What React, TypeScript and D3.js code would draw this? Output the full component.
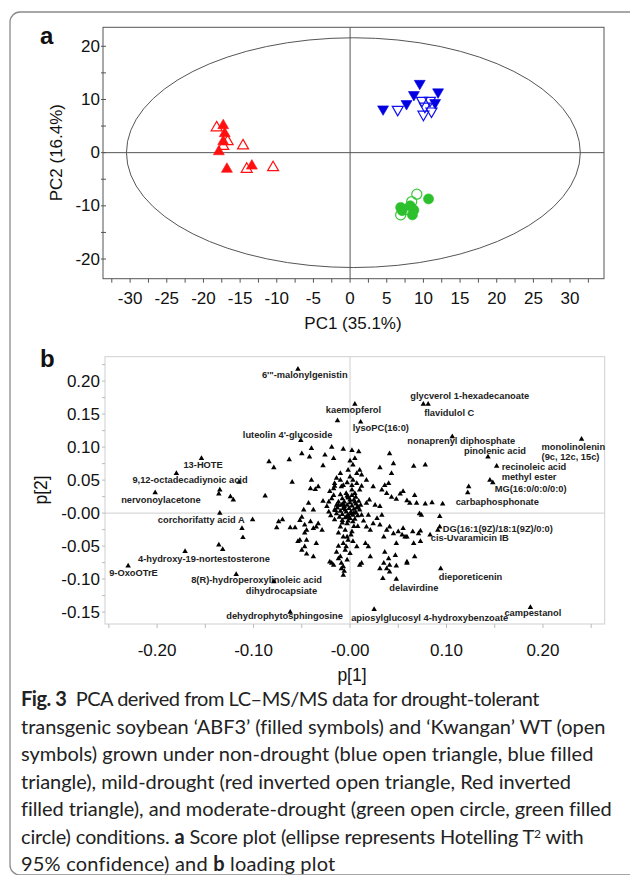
import { useLayoutEffect, useRef, useState } from "react";
import * as d3 from "d3";

// ---------- panel a: score plot ----------
const scoreXTicks = [-30, -25, -20, -15, -10, -5, 0, 5, 10, 15, 20, 25, 30];
const scoreYTicks = [20, 10, 0, -10, -20];

// filled = ABF3, open = Kwangan WT
const abf3NonDrought = [[4.5, 8.2], [7.7, 9.2], [8.7, 10.9], [9.5, 13.0], [12.0, 11.4], [11.6, 9.4]];
const wtNonDrought = [[6.5, 8.1], [9.8, 9.8], [10.9, 9.8], [10.0, 7.2], [11.1, 7.8], [10.2, 8.7]];
const abf3MildDrought = [[-17.3, 5.1], [-17.1, 3.6], [-17.3, 2.1], [-17.9, 0.2], [-16.8, -3.1], [-13.4, -2.5]];
const wtMildDrought = [[-18.2, 4.7], [-16.7, 2.1], [-17.3, 1.2], [-14.6, 1.3], [-14.1, -3.1], [-10.5, -2.8]];
const abf3ModDrought = [[6.9, -10.3], [7.1, -10.9], [8.2, -10.0], [8.7, -10.8], [8.5, -11.7], [10.7, -8.7]];
const wtModDrought = [[9.1, -7.8], [8.4, -9.2], [6.9, -11.7], [7.6, -10.7]];

// Hotelling T2 (95%) ellipse in PC units
const hotelling = { cx: 0.45, cy: 0, rx: 30.95, ry: 21.6 };

// ---------- panel b: loading plot ----------
const loadXTicks = [-0.2, -0.1, 0, 0.1, 0.2];
const loadXLabels = ["-0.20", "-0.10", "-0.00", "0.10", "0.20"];
const loadYTicks = [0.2, 0.15, 0.1, 0.05, 0, -0.05, -0.1, -0.15];
const loadYLabels = ["0.20", "0.15", "0.10", "0.05", "-0.00", "-0.05", "-0.10", "-0.15"];

const namedLoadings = [
  { name: "6'\"-malonylgenistin", x: -0.054, y: 0.218 },
  { name: "kaemopferol", x: 0.005, y: 0.165 },
  { name: "lysoPC(16:0)", x: 0.011, y: 0.138 },
  { name: "glycverol 1-hexadecanoate", x: 0.076, y: 0.165 },
  { name: "flavidulol C", x: 0.081, y: 0.165 },
  { name: "luteolin 4'-glucoside", x: -0.051, y: 0.11 },
  { name: "nonaprenyl diphosphate", x: 0.106, y: 0.116 },
  { name: "pinolenic acid", x: 0.143, y: 0.085 },
  { name: "monolinolenin|(9c, 12c, 15c)", x: 0.24, y: 0.112 },
  { name: "recinoleic acid|methyl ester", x: 0.152, y: 0.071 },
  { name: "MG(16:0/0:0/0:0)", x: 0.148, y: 0.046 },
  { name: "carbaphosphonate", x: 0.122, y: 0.031 },
  { name: "13-HOTE", x: -0.154, y: 0.083 },
  { name: "9,12-octadecadiynoic acid", x: -0.18, y: 0.06 },
  { name: "nervonoylacetone", x: -0.202, y: 0.031 },
  { name: "corchorifatty acid A", x: -0.135, y: 0.0 },
  { name: "4-hydroxy-19-nortestosterone", x: -0.171, y: -0.058 },
  { name: "9-OxoOTrE", x: -0.23, y: -0.08 },
  { name: "8(R)-hydroperoxylinoleic acid", x: -0.118, y: -0.093 },
  { name: "dihydrocapsiate", x: -0.079, y: -0.104 },
  { name: "dehydrophytosphingosine", x: -0.062, y: -0.15 },
  { name: "apiosylglucosyl 4-hydroxybenzoate", x: 0.025, y: -0.146 },
  { name: "campestanol", x: 0.187, y: -0.143 },
  { name: "dieporeticenin", x: 0.094, y: -0.084 },
  { name: "delavirdine", x: 0.048, y: -0.1 },
  { name: "DG(16:1(9Z)/18:1(9Z)/0:0)", x: 0.093, y: -0.021 },
  { name: "cis-Uvaramicin IB", x: 0.091, y: -0.026 },
];

// where each name sits relative to its triangle (px)
const labelOffsets: Record<string, [number, number]> = {
  "6'\"-malonylgenistin": [-36, 6],
  kaemopferol: [-29, 6],
  "lysoPC(16:0)": [-8, 6],
  "glycverol 1-hexadecanoate": [-13, -8],
  "flavidulol C": [-4, 9],
  "luteolin 4'-glucoside": [-58, -6],
  "nonaprenyl diphosphate": [-45, 4],
  "pinolenic acid": [-24, -6],
  "monolinolenin|(9c, 12c, 15c)": [-40, 8],
  "recinoleic acid|methyl ester": [5, 1],
  "MG(16:0/0:0/0:0)": [2, 6],
  carbaphosphonate: [-12, 9],
  "13-HOTE": [-18, 7],
  "9,12-octadecadiynoic acid": [-44, 6],
  nervonoylacetone: [-34, 7],
  "corchorifatty acid A": [-62, 7],
  "4-hydroxy-19-nortestosterone": [-47, 8],
  "9-OxoOTrE": [-19, 7],
  "8(R)-hydroperoxylinoleic acid": [-45, 5],
  dihydrocapsiate: [-28, 9],
  dehydrophytosphingosine: [-64, 4],
  "apiosylglucosyl 4-hydroxybenzoate": [-23, 9],
  campestanol: [-26, 5],
  dieporeticenin: [-2, 8],
  delavirdine: [-7, 9],
  "DG(16:1(9Z)/18:1(9Z)/0:0)": [3, 2],
  "cis-Uvaramicin IB": [-7, 8],
};

const loadings = [
  // upper
  [-0.013, 0.14], [-0.084, 0.078], [-0.079, 0.069], [-0.063, 0.081], [-0.05, 0.09], [-0.042, 0.085],
  [-0.04, 0.098], [-0.026, 0.088], [-0.019, 0.1], [-0.017, 0.083], [-0.007, 0.097], [0.002, 0.095],
  [0.009, 0.093], [0.0, 0.079], [0.005, 0.083], [0.041, 0.09], [0.031, 0.069], [0.045, 0.075],
  [0.066, 0.071], [0.078, 0.073], [0.003, 0.073], [-0.002, 0.065], [0.007, 0.06], [0.01, 0.065],
  [-0.028, 0.072], [-0.01, 0.06], [-0.014, 0.053], [-0.016, 0.045], [0.012, 0.058], [0.017, 0.05],
  [0.043, 0.06], [-0.06, 0.047], [-0.088, 0.026],
  // middle
  [-0.04, 0.05], [-0.041, 0.037], [-0.036, 0.036], [-0.033, 0.04], [-0.017, 0.037], [-0.007, 0.042],
  [0.002, 0.042], [0.01, 0.035], [-0.01, 0.05], [-0.016, 0.041], [-0.009, 0.04], [-0.021, 0.033],
  [-0.017, 0.027], [0.0, 0.055], [0.003, 0.05], [-0.003, 0.046], [0.007, 0.045], [0.012, 0.041],
  [0.002, 0.035], [0.005, 0.03], [-0.002, 0.025],
  [0.024, 0.04], [0.033, 0.035], [0.036, 0.042], [0.04, 0.045], [0.038, 0.03], [0.043, 0.024],
  [0.048, 0.021], [0.052, 0.029], [0.055, 0.033], [0.059, 0.019], [0.062, 0.015], [0.067, 0.027],
  [0.069, 0.015], [0.078, 0.014], [0.085, 0.016], [0.096, 0.014], [0.026, 0.012], [0.031, 0.01],
  [0.017, 0.015], [0.02, 0.02],
  [-0.135, 0.035], [-0.136, 0.029], [-0.124, 0.025], [-0.121, 0.02], [-0.115, 0.047],
  [-0.048, 0.005], [-0.038, 0.005], [-0.024, 0.01], [-0.014, 0.012], [-0.019, 0.022], [-0.022, 0.017],
  [-0.043, 0.015], [-0.016, 0.005], [-0.022, 0.002], [-0.028, 0.018],
  // lower left
  [-0.101, -0.01], [-0.112, -0.023], [-0.111, -0.037], [-0.136, -0.048], [-0.132, -0.055],
  [-0.074, -0.013], [-0.07, -0.01], [-0.076, -0.022], [-0.062, -0.022], [-0.057, -0.022],
  [-0.05, -0.006], [-0.052, -0.011], [-0.047, -0.018], [-0.041, -0.013], [-0.038, -0.023],
  [-0.033, -0.016], [-0.029, -0.026], [-0.045, -0.026], [-0.047, -0.03], [-0.035, -0.021],
  [-0.054, -0.043], [-0.05, -0.056], [-0.047, -0.051], [-0.045, -0.062], [-0.045, -0.041],
  [-0.035, -0.046], [-0.038, -0.066], [-0.021, -0.074], [-0.017, -0.079], [-0.009, -0.084],
  [-0.007, -0.094], [-0.052, -0.041],
  // central trail
  [-0.002, -0.006], [-0.003, -0.016], [-0.005, -0.026], [-0.003, -0.036], [-0.007, -0.046],
  [-0.005, -0.056], [-0.01, -0.066], [-0.009, -0.076], [-0.006, -0.088], [-0.01, -0.021],
  [0.002, -0.028], [-0.007, -0.036], [-0.002, -0.041], [0.003, -0.043], [-0.004, -0.051],
  [0.0, -0.061], [-0.003, -0.071], [-0.007, -0.081], [-0.012, -0.069], [-0.019, -0.076],
  [-0.014, -0.059], [-0.012, -0.03], [0.004, -0.02], [-0.008, -0.015], [0.001, -0.033],
  [-0.012, -0.05], [-0.016, -0.01], [-0.02, -0.004],
  // lower right
  [0.012, -0.003], [0.019, -0.003], [0.024, -0.016], [0.021, -0.026], [0.031, -0.018],
  [0.038, -0.026], [0.041, -0.021], [0.045, -0.031], [0.035, -0.036], [0.048, -0.046],
  [0.057, -0.036], [0.019, -0.051], [0.021, -0.066], [0.036, -0.059], [0.04, -0.069],
  [0.035, -0.076], [0.041, -0.079], [0.048, -0.08], [0.031, -0.084], [0.012, -0.076],
  [0.041, -0.089], [0.059, -0.076], [0.074, -0.003], [0.093, -0.005], [0.065, -0.028],
  [0.073, -0.027], [0.059, -0.036], [0.054, -0.033], [0.073, -0.043], [0.066, -0.046],
  [0.067, -0.066], [0.059, -0.074], [0.047, -0.064], [0.038, -0.084], [0.01, -0.079],
  [0.017, -0.021], [0.05, -0.028], [0.055, -0.023], [0.016, -0.046], [0.007, -0.051],
  [0.028, -0.008], [0.033, -0.003], [0.072, -0.001], [0.083, -0.033], [0.071, -0.031],
  [0.034, -0.099], [0.145, 0.05], [0.123, 0.04], [0.014, -0.012], [0.008, -0.02],
  // dense core
  [-0.01, 0.028], [-0.004, 0.03], [0.002, 0.027], [0.006, 0.024], [-0.008, 0.022], [-0.002, 0.023],
  [0.004, 0.02], [0.009, 0.018], [-0.012, 0.017], [-0.006, 0.017], [0.0, 0.016], [0.006, 0.014],
  [-0.009, 0.012], [-0.003, 0.012], [0.002, 0.011], [0.008, 0.01], [-0.013, 0.008], [-0.007, 0.007],
  [-0.001, 0.007], [0.004, 0.006], [0.01, 0.005], [-0.01, 0.003], [-0.004, 0.002], [0.001, 0.002],
  [0.006, 0.001], [-0.014, -0.001], [-0.008, -0.002], [-0.002, -0.003], [0.003, -0.003],
  [0.008, -0.004], [-0.011, -0.006], [-0.005, -0.007], [0.0, -0.008], [0.005, -0.009],
  [-0.008, -0.011], [-0.002, -0.012], [0.003, -0.013], [-0.005, 0.005], [0.0, 0.02], [-0.006, 0.01],
  [0.004, 0.0], [-0.003, -0.005], [0.007, 0.008], [-0.012, 0.012], [0.001, -0.001], [-0.007, 0.014],
  [0.005, 0.017], [-0.003, 0.026], [0.011, 0.012], [-0.015, 0.004],
];

// ---------- caption ----------
type Seg = { t: string; b?: boolean; sup?: boolean };
const captionLines: Seg[][] = [
  [{ t: "Fig. 3", b: true }, { t: "  PCA derived from LC\u2013MS/MS data for drought-tolerant" }],
  [{ t: "transgenic soybean \u2018ABF3\u2019 (filled symbols) and \u2018Kwangan\u2019 WT (open" }],
  [{ t: "symbols) grown under non-drought (blue open triangle, blue filled" }],
  [{ t: "triangle), mild-drought (red inverted open triangle, Red inverted" }],
  [{ t: "filled triangle), and moderate-drought (green open circle, green filled" }],
  [{ t: "circle) conditions. " }, { t: "a", b: true }, { t: " Score plot (ellipse represents Hotelling T" }, { t: "2", sup: true }, { t: " with" }],
  [{ t: "95% confidence) and " }, { t: "b", b: true }, { t: " loading plot" }],
];
const captionWidths = [518, 584, 572, 550, 590, 563, 314];

const sans = "'Liberation Sans', Arial, sans-serif";
const ink = "#111";

const ScorePlot = () => {
  const x = d3.scaleLinear().domain([-33.7, 34.63]).range([103, 604]);
  const y = d3.scaleLinear().domain([-23.7, 23.57]).range([278.7, 27.3]);
  const tri = d3.symbol().type(d3.symbolTriangle).size(52)() as string;
  const dot = d3.symbol().type(d3.symbolCircle).size(80)() as string;
  const minorX = d3.range(-32.5, 33, 2.5);
  const minorY = d3.range(-20, 21, 5);
  const [x0, x1] = x.range();
  const [y0, y1] = y.range();

  const marks = (pts: number[][], path: string, color: string, filled: boolean, flip = false) =>
    pts.map((d, i) => (
      <path
        key={i}
        d={path}
        transform={`translate(${x(d[0])},${y(d[1])})${flip ? " rotate(180)" : ""}`}
        fill={filled ? color : "none"}
        stroke={color}
        strokeWidth={filled ? 0.6 : 1.2}
      />
    ));

  return (
    <g fontFamily={sans} fill={ink}>
      <text x={40} y={44} fontSize={24} fontWeight="bold">a</text>
      <rect x={x0} y={y1} width={x1 - x0} height={y0 - y1} fill="none" stroke="#555" />
      <line x1={x(0)} x2={x(0)} y1={y1} y2={y0} stroke="#555" />
      <line x1={x0} x2={x1} y1={y(0)} y2={y(0)} stroke="#555" />
      <ellipse
        cx={x(hotelling.cx)}
        cy={y(hotelling.cy)}
        rx={x(hotelling.rx) - x(0)}
        ry={y(0) - y(hotelling.ry)}
        fill="none"
        stroke="#555"
      />
      {minorX.map((t) => (
        <line key={t} x1={x(t)} x2={x(t)} y1={y0} y2={y0 + 4} stroke="#555" />
      ))}
      {minorY.map((t) => (
        <line key={t} x1={x0 - 2} x2={x0 + 3} y1={y(t)} y2={y(t)} stroke="#555" />
      ))}
      {scoreXTicks.map((t) => (
        <text key={t} x={x(t)} y={298} fontSize={17} textAnchor="middle" dominantBaseline="central">
          {t}
        </text>
      ))}
      {scoreYTicks.map((t) => (
        <text key={t} x={100} y={y(t)} fontSize={17} textAnchor="end" dominantBaseline="central">
          {t}
        </text>
      ))}
      <text x={353} y={323} fontSize={17} textAnchor="middle" dominantBaseline="central">PC1 (35.1%)</text>
      <text transform={`translate(56,${y(0)}) rotate(-90)`} fontSize={17} textAnchor="middle" dominantBaseline="central">
        PC2 (16.4%)
      </text>
      {marks(wtMildDrought, tri, "#ff1010", false)}
      {marks(abf3MildDrought, tri, "#ff1010", true)}
      {marks(wtNonDrought, tri, "#1010f0", false, true)}
      {marks(abf3NonDrought, tri, "#0000e0", true, true)}
      {marks(wtModDrought, dot, "#3ac83a", false)}
      {marks(abf3ModDrought, dot, "#2cc02c", true)}
    </g>
  );
};

const LoadingPlot = () => {
  const x = d3.scaleLinear().domain([-0.254, 0.264]).range([105, 604.7]);
  const y = d3.scaleLinear().domain([-0.168, 0.237]).range([624, 356.7]);
  const tri = d3.symbol().type(d3.symbolTriangle).size(13)() as string;
  const [x0, x1] = x.range();
  const [y0, y1] = y.range();
  const tickX = d3.range(-0.25, 0.26, 0.05);
  const tickY = d3.range(-0.15, 0.24, 0.025);

  return (
    <g fontFamily={sans} fill={ink}>
      <text x={40} y={367} fontSize={24} fontWeight="bold">b</text>
      <rect x={x0} y={y1} width={x1 - x0} height={y0 - y1} fill="none" stroke="#cfcfcf" />
      <line x1={x(0)} x2={x(0)} y1={y1} y2={y0} stroke="#cfcfcf" />
      <line x1={x0} x2={x1} y1={y(0)} y2={y(0)} stroke="#cfcfcf" />
      {tickX.map((t, i) => (
        <line key={i} x1={x(t)} x2={x(t)} y1={y0} y2={y0 + 4} stroke="#bbb" />
      ))}
      {tickY.map((t, i) => (
        <line key={i} x1={x0 - 3} x2={x0} y1={y(t)} y2={y(t)} stroke="#bbb" />
      ))}
      {loadXTicks.map((t, i) => (
        <text key={t} x={x(t)} y={650} fontSize={17} textAnchor="middle" dominantBaseline="central">
          {loadXLabels[i]}
        </text>
      ))}
      {loadYTicks.map((t, i) => (
        <text key={t} x={100} y={y(t)} fontSize={17} textAnchor="end" dominantBaseline="central">
          {loadYLabels[i]}
        </text>
      ))}
      <text x={352} y={675} fontSize={17.5} textAnchor="middle" dominantBaseline="central">p[1]</text>
      <text transform={`translate(41,490) rotate(-90)`} fontSize={17.5} textAnchor="middle" dominantBaseline="central">
        p[2]
      </text>
      {loadings.map((d, i) => (
        <path key={i} d={tri} transform={`translate(${x(d[0])},${y(d[1])})`} fill="#000" />
      ))}
      {namedLoadings.map((d) => {
        const [dx, dy] = labelOffsets[d.name];
        const lines = d.name.split("|");
        return (
          <g key={d.name}>
            <path d={tri} transform={`translate(${x(d.x)},${y(d.y)})`} fill="#000" />
            {lines.map((s, j) => (
              <text
                key={j}
                x={x(d.x) + dx}
                y={y(d.y) + dy + j * 10}
                fontSize={9.3}
                fontWeight="bold"
                fill="#222"
                dominantBaseline="central"
              >
                {s}
              </text>
            ))}
          </g>
        );
      })}
    </g>
  );
};

// caption lines are fitted to the measured widths by letter spacing
const Caption = () => {
  const refs = useRef<(SVGTextElement | null)[]>([]);
  const [spacing, setSpacing] = useState<number[]>(captionLines.map(() => 0));

  useLayoutEffect(() => {
    const next = captionLines.map((segs, i) => {
      const el = refs.current[i];
      if (!el) return 0;
      const n = segs.reduce((a, s) => a + s.t.length, 0);
      return (captionWidths[i] - el.getComputedTextLength()) / n;
    });
    setSpacing(next);
  }, []);

  return (
    <g fontFamily="Lato, 'Open Sans', sans-serif" fontSize={20} fill="#222">
      {captionLines.map((segs, i) => (
        <text
          key={i}
          ref={(el) => {
            refs.current[i] = el;
          }}
          x={21}
          y={706 + i * 27.5}
          letterSpacing={spacing[i]}
          style={{ whiteSpace: "pre" }}
        >
          {segs.map((s, j) => {
            const afterSup = j > 0 && segs[j - 1].sup;
            return (
              <tspan
                key={j}
                fontWeight={s.b ? "bold" : "normal"}
                fontSize={s.sup ? 12 : 20}
                dy={s.sup ? -6 : afterSup ? 6 : undefined}
              >
                {s.t}
              </tspan>
            );
          })}
        </text>
      ))}
    </g>
  );
};

export default function App() {
  return (
    <svg
      width={630}
      height={875}
      style={{ position: "absolute", left: 0, top: 0, background: "#fff" }}
    >
      <rect x={10} y={12} width={650} height={863} rx={10} fill="#fff" stroke="#8a8a8a" strokeWidth={1.3} />
      <ScorePlot />
      <LoadingPlot />
      <Caption />
    </svg>
  );
}
